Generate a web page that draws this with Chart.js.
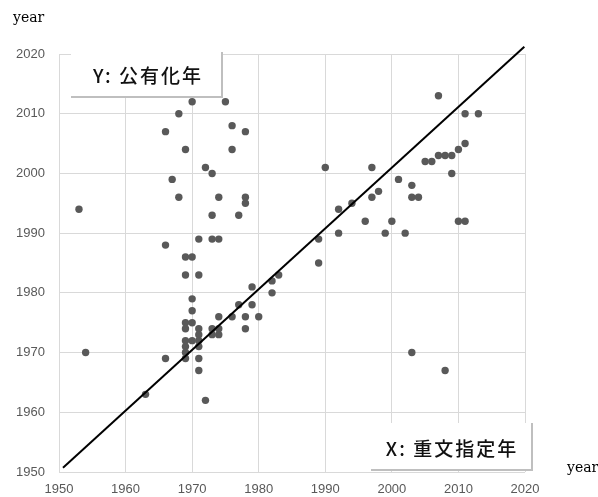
<!DOCTYPE html>
<html>
<head>
<meta charset="utf-8">
<script src="https://cdn.jsdelivr.net/npm/chart.js@4/dist/chart.umd.min.js"></script>
<style>
  html, body { margin: 0; padding: 0; background: #fff; }
  #wrap { width: 598px; height: 497px; position: relative; }
</style>
</head>
<body>
<div id="wrap"><canvas id="scatter-designation"></canvas></div>
<script>
var POINT_GREY = "#595959"
var GRID_GREY = "#d9d9d9"
var TICK_GREY = "#595959"

// X: year designated as Important Cultural Property, Y: year it became public property
var designationYear = [
  1953, 1954, 1963,
  1966, 1966, 1966,
  1967,
  1968, 1968,
  1969, 1969, 1969, 1969, 1969, 1969, 1969, 1969, 1969,
  1970, 1970, 1970, 1970, 1970, 1970,
  1971, 1971, 1971, 1971, 1971, 1971, 1971, 1971,
  1972, 1972,
  1973, 1973, 1973, 1973, 1973,
  1974, 1974, 1974, 1974, 1974,
  1975,
  1976, 1976, 1976,
  1977, 1977,
  1978, 1978, 1978, 1978, 1978,
  1979, 1979,
  1980,
  1982, 1982,
  1983,
  1989, 1989,
  1990,
  1992, 1992,
  1994, 1996,
  1997, 1997,
  1998, 1999, 2000, 2001, 2002,
  2003, 2003, 2003,
  2004, 2005, 2006,
  2007, 2007,
  2008, 2008,
  2009, 2009,
  2010, 2010,
  2011, 2011, 2011,
  2013
]
var publicYear = [
  1994, 1970, 1963,
  2007, 1988, 1969,
  1999,
  2010, 1996,
  2004, 1986, 1983, 1975, 1974, 1972, 1971, 1970, 1969,
  2012, 1986, 1979, 1977, 1975, 1972,
  1989, 1983, 1974, 1973, 1972, 1971, 1969, 1967,
  2001, 1962,
  2000, 1993, 1989, 1974, 1973,
  1996, 1989, 1976, 1974, 1973,
  2012,
  2008, 2004, 1976,
  1993, 1978,
  2007, 1996, 1995, 1976, 1974,
  1981, 1978,
  1976,
  1982, 1980,
  1983,
  1989, 1985,
  2001,
  1994, 1990,
  1995, 1992,
  2001, 1996,
  1997, 1990, 1992, 1999, 1990,
  1998, 1996, 1970,
  1996, 2002, 2002,
  2013, 2003,
  2003, 1967,
  2003, 2000,
  2004, 1992,
  2010, 2005, 1992,
  2010
]

// reference line drawn by hand in the original (roughly y = x)
var refLineX = [1950.6, 2019.9]
var refLineY = [1950.7, 2021.2]

var yearTicks = [1950, 1960, 1970, 1980, 1990, 2000, 2010, 2020]

var points = designationYear.map(function (x, i) { return { x: x, y: publicYear[i] } })
var refLine = refLineX.map(function (x, i) { return { x: x, y: refLineY[i] } })

// label boxes + "year" captions
var overlays = {
  id: 'overlays',
  afterDatasetsDraw: function (chart) {
    var c = chart.ctx
    c.save()
    function box(x, y, w, h, text, cx, cy) {
      c.fillStyle = "#fff"
      c.fillRect(x, y, w, h)
      c.strokeStyle = "#bfbfbf"
      c.lineWidth = 2
      c.beginPath()
      c.moveTo(x, y + h)
      c.lineTo(x + w, y + h)
      c.lineTo(x + w, y)
      c.stroke()
      c.fillStyle = "#111"
      c.font = "500 19px 'Noto Sans CJK JP'"
      c.letterSpacing = "2px"
      c.textAlign = "center"
      c.textBaseline = "middle"
      c.fillText(text, cx, cy)
      c.letterSpacing = "0px"
    }
    box(71, 52, 151, 45, "Y: 公有化年", 148, 76)
    box(371, 423, 161, 47, "X: 重文指定年", 452, 449)

    c.fillStyle = "#000"
    c.font = "14px 'DejaVu Serif'"
    c.textAlign = "left"
    c.textBaseline = "alphabetic"
    c.fillText("year", 13, 22)
    c.fillText("year", 567, 472)
    c.restore()
  }
}

var ctx = document.getElementById("scatter-designation")
var chart = new Chart(ctx, {
  type: 'scatter',
  data: {
    datasets: [{
      type: 'line',
      data: refLine,
      borderColor: "#000",
      borderWidth: 2,
      pointRadius: 0,
      showLine: true,
      fill: false,
      clip: false
    }, {
      data: points,
      backgroundColor: POINT_GREY,
      borderWidth: 0,
      pointRadius: 3.7,
      pointHoverRadius: 3.7
    }]
  },
  options: {
    responsive: true,
    maintainAspectRatio: false,
    animation: false,
    layout: { padding: { left: 0, right: 73, top: 54, bottom: 0 } },
    plugins: {
      legend: { display: false },
      tooltip: { enabled: false }
    },
    scales: {
      x: {
        type: 'linear',
        min: 1950,
        max: 2020,
        afterBuildTicks: function (s) { s.ticks = yearTicks.map(function (v) { return { value: v } }) },
        afterFit: function (s) { s.height = 25 },
        grid: { color: GRID_GREY, drawTicks: false },
        border: { display: false },
        ticks: {
          padding: 10,
          color: TICK_GREY,
          font: { family: "'Liberation Sans'", size: 13 },
          callback: function (v) { return String(v) }
        }
      },
      y: {
        type: 'linear',
        min: 1950,
        max: 2020,
        afterBuildTicks: function (s) { s.ticks = yearTicks.map(function (v) { return { value: v } }) },
        afterFit: function (s) { s.width = 59 },
        grid: { color: GRID_GREY, drawTicks: false },
        border: { display: false },
        ticks: {
          padding: 14,
          color: TICK_GREY,
          font: { family: "'Liberation Sans'", size: 13 },
          callback: function (v) { return String(v) }
        }
      }
    }
  },
  plugins: [overlays]
})
</script>
</body>
</html>
